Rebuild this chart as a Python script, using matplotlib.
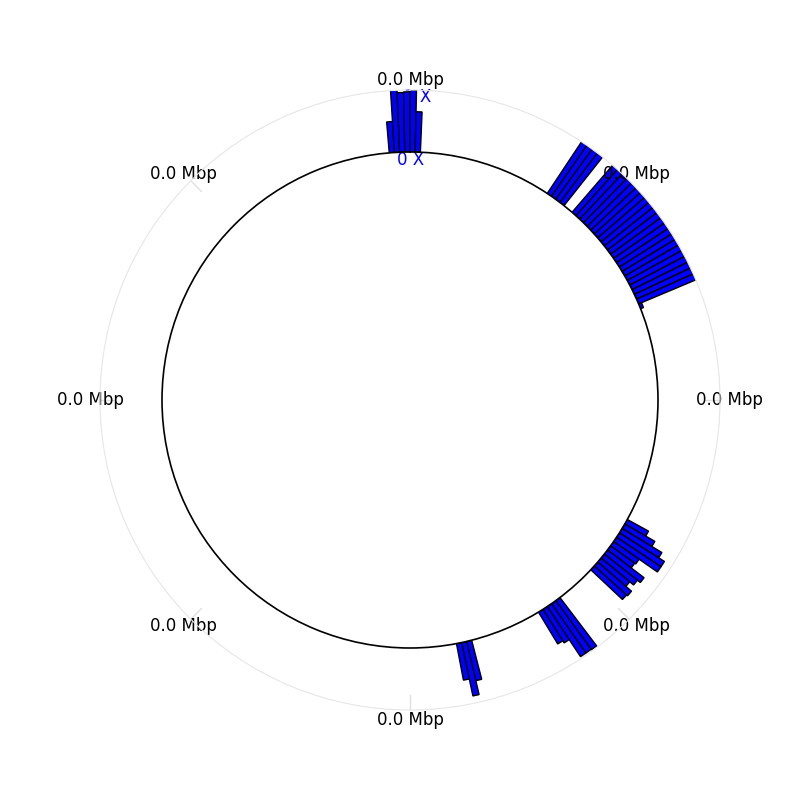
import numpy as np
import matplotlib
matplotlib.use('Agg')
import matplotlib.pyplot as plt

# 300 equal bins round the circle, bar = mean depth in "X" (0..1)
N_BINS = 300
tick_angles = [0, 45, 90, 135, 180, 225, 270, 315]
tick_labels = ['0.0 Mbp'] * 8

bins = [296, 297, 298, 299, 0, 1,
        28, 29, 30, 31,
        34, 35, 36, 37, 38, 39, 40, 41, 42, 43, 44, 45, 46, 47, 48, 49, 50,
        51, 52, 53, 54, 55, 56,
        99, 100, 101, 102, 103, 104, 105, 106, 107, 108, 109, 110,
        119, 120, 121, 122, 123,
        138, 139, 140]
depth = [0.5, 1.0, 0.96, 0.97, 1.0, 0.65,
         1.0, 1.0, 1.0, 1.0,
         1.0, 1.0, 1.0, 1.0, 1.0, 1.0, 1.0, 1.0, 1.0, 1.0, 1.0, 1.0, 1.0,
         1.0, 1.0, 1.0, 1.0, 1.0, 1.0, 1.0, 1.0, 1.0, 0.05,
         0.39, 0.56, 0.75, 0.86, 0.86, 0.5, 0.48, 0.74, 0.68, 0.6, 0.72, 0.7,
         0.98, 0.97, 0.97, 0.64, 0.6,
         0.65, 0.88, 0.6]

bin_w = 2 * np.pi / N_BINS

fig = plt.figure(figsize=(8, 8), dpi=100)
ax = fig.add_axes([0.125, 0.1125, 0.775, 0.775], projection='polar')
ax.set_theta_zero_location('N')
ax.set_theta_direction(-1)
ax.set_ylim(0, 1)
ax.set_rorigin(-4)

# short grey tick marks just inside the outer ring
for a in np.deg2rad(tick_angles):
    ax.plot([a, a], [0.76, 1.0], color='#e0e0e0', linewidth=1, zorder=0.8)

theta = np.array(bins) * bin_w
ax.bar(theta, depth, width=bin_w, bottom=0, align='edge',
       color='blue', edgecolor='black', linewidth=1)

ax.text(np.deg2rad(0.24), -0.129, '0 X', color='blue', fontsize=12,
        ha='center', va='center', zorder=0.5)
ax.text(np.deg2rad(1.5), 0.887, '1 X', color='blue', fontsize=12,
        ha='center', va='center', zorder=0.5)

ax.set_xticks(np.deg2rad(tick_angles))
ax.set_xticklabels(tick_labels, fontsize=12)
ax.tick_params(axis='x', direction='in', length=0, pad=0)
ax.set_yticks([])
ax.grid(False)
ax.spines['polar'].set_color('#e6e6e6')
ax.spines['inner'].set_color('black')
ax.spines['inner'].set_linewidth(1.2)

fig.savefig('out.png', dpi=100)
